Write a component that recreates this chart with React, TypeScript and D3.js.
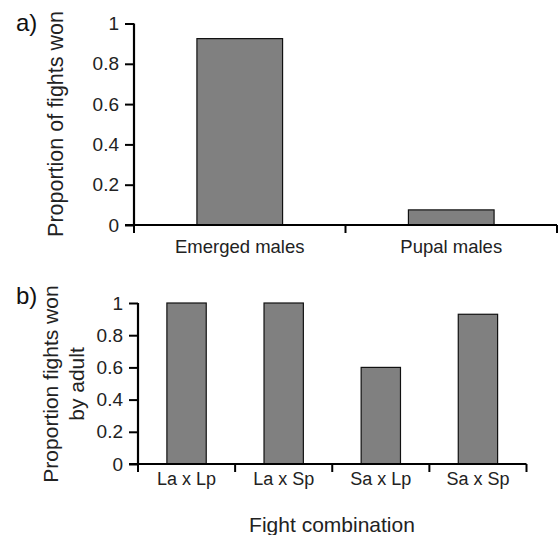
import React, { useEffect, useRef } from "react";
import * as d3 from "d3";

const groupsA = ["Emerged males", "Pupal males"];
const valuesA = [0.925, 0.075];

const groupsB = ["La x Lp", "La x Sp", "Sa x Lp", "Sa x Sp"];
const valuesB = [1, 1, 0.6, 0.93];

const yTicks = [0, 0.2, 0.4, 0.6, 0.8, 1];

const FONT = "Liberation Sans, Arial, sans-serif";

interface PanelOpts {
  left: number;
  right: number;
  top: number;
  bottom: number;
  groups: string[];
  values: number[];
  labelSize: number;
  labelPad: number;
}

function drawPanel(
  svg: d3.Selection<SVGSVGElement, unknown, null, undefined>,
  opts: PanelOpts
) {
  const { left, right, top, bottom, groups, values, labelSize, labelPad } = opts;

  const x = d3.scaleBand<string>().domain(groups).range([left, right]).paddingInner(0).paddingOuter(0);
  const y = d3.scaleLinear().domain([0, 1]).range([bottom, top]);

  const g = svg.append("g");

  // bars
  const barW = x.bandwidth() * 0.405;
  g.selectAll("rect.bar")
    .data(groups)
    .join("rect")
    .attr("class", "bar")
    .attr("x", (d) => x(d)! + x.bandwidth() / 2 - barW / 2)
    .attr("width", barW)
    .attr("y", (d, i) => y(values[i]))
    .attr("height", (d, i) => bottom - y(values[i]))
    .attr("fill", "#808080")
    .attr("stroke", "#111")
    .attr("stroke-width", 1.2);

  // y axis
  const yAxis = g
    .append("g")
    .attr("transform", `translate(${left},0)`)
    .call(
      d3
        .axisLeft(y)
        .tickValues(yTicks)
        .tickSize(9)
        .tickPadding(6)
        .tickFormat((d) => d3.format("")(+d)) as any
    );
  yAxis.select(".domain").attr("stroke", "#000").attr("stroke-width", 2.2).attr("d", `M0,${bottom}V${top}`);
  yAxis.selectAll(".tick line").attr("stroke", "#000").attr("stroke-width", 2);
  yAxis
    .selectAll(".tick text")
    .attr("font-family", FONT)
    .attr("font-size", 19)
    .attr("fill", "#222");

  // x axis
  const xAxis = g
    .append("g")
    .attr("transform", `translate(0,${bottom})`)
    .call(d3.axisBottom(x).tickSize(0).tickPadding(labelPad) as any);
  xAxis.select(".domain").attr("stroke", "#000").attr("stroke-width", 2.2).attr("d", `M${left - 9},0H${right}`);
  xAxis
    .selectAll(".tick text")
    .attr("font-family", FONT)
    .attr("font-size", labelSize)
    .attr("fill", "#222");

  // category separators
  const seps = [left, ...groups.map((d) => x(d)! + x.bandwidth())];
  g.selectAll("line.sep")
    .data(seps)
    .join("line")
    .attr("class", "sep")
    .attr("x1", (d) => d)
    .attr("x2", (d) => d)
    .attr("y1", bottom)
    .attr("y2", bottom + 8)
    .attr("stroke", "#000")
    .attr("stroke-width", 2);

  return g;
}

export default function App() {
  const svgRef = useRef<SVGSVGElement>(null);

  useEffect(() => {
    if (!svgRef.current) return;
    const svg = d3.select<SVGSVGElement, unknown>(svgRef.current);
    svg.selectAll("*").remove();

    drawPanel(svg, {
      left: 134, right: 557, top: 23.5, bottom: 225,
      groups: groupsA, values: valuesA, labelSize: 18.5, labelPad: 15,
    });
    drawPanel(svg, {
      left: 138, right: 526.5, top: 303, bottom: 464,
      groups: groupsB, values: valuesB, labelSize: 18, labelPad: 8,
    });

    // panel letters
    svg
      .append("text")
      .attr("x", 16)
      .attr("y", 31)
      .attr("font-family", FONT)
      .attr("font-size", 24)
      .attr("fill", "#111")
      .text("a)");
    svg
      .append("text")
      .attr("x", 16)
      .attr("y", 304)
      .attr("font-family", FONT)
      .attr("font-size", 24)
      .attr("fill", "#111")
      .text("b)");

    // y titles
    svg
      .append("text")
      .attr("transform", "translate(63,124) rotate(-90)")
      .attr("text-anchor", "middle")
      .attr("font-family", FONT)
      .attr("font-size", 21.5)
      .attr("fill", "#222")
      .text("Proportion of fights won");
    svg
      .append("text")
      .attr("transform", "translate(57.5,384) rotate(-90)")
      .attr("text-anchor", "middle")
      .attr("font-family", FONT)
      .attr("font-size", 21)
      .attr("fill", "#222")
      .text("Proportion fights won");
    svg
      .append("text")
      .attr("transform", "translate(84,384) rotate(-90)")
      .attr("text-anchor", "middle")
      .attr("font-family", FONT)
      .attr("font-size", 21)
      .attr("fill", "#222")
      .text("by adult");

    // x title
    svg
      .append("text")
      .attr("x", 332)
      .attr("y", 532)
      .attr("text-anchor", "middle")
      .attr("font-family", FONT)
      .attr("font-size", 21)
      .attr("fill", "#222")
      .text("Fight combination");
  }, []);

  return (
    <svg
      ref={svgRef}
      width={559}
      height={535}
      style={{ position: "absolute", left: 0, top: 0, background: "#fff" }}
    />
  );
}
